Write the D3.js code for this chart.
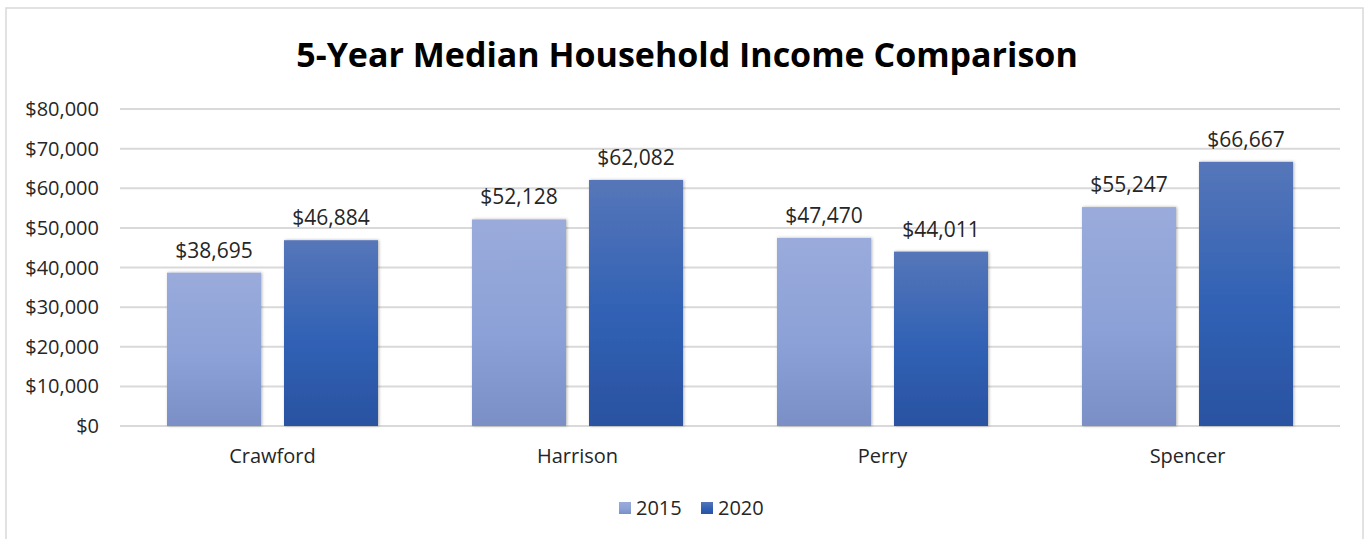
<!DOCTYPE html>
<html>
<head>
<meta charset="utf-8">
<script src="https://cdn.jsdelivr.net/npm/d3@7"></script>
<style>
  html, body { margin: 0; padding: 0; background: #fff; }
  svg { display: block; }
  text { font-family: "Open Sans", "Noto Sans", sans-serif; fill: #262626; }
</style>
</head>
<body>
<svg id="chart" width="1372" height="539"></svg>
<script>
// Median household income by county
const counties = ["Crawford", "Harrison", "Perry", "Spencer"];
const years = ["2015", "2020"];
const income2015 = [38695, 52128, 47470, 55247];
const income2020 = [46884, 62082, 44011, 66667];
const yTicks = [0, 10000, 20000, 30000, 40000, 50000, 60000, 70000, 80000];

const seriesValues = { "2015": income2015, "2020": income2020 };

const svg = d3.select("#chart");
const plot = { left: 120, right: 1340, top: 109, bottom: 426 };

// Frame around the chart area
svg.append("rect")
  .attr("x", 6).attr("y", 8)
  .attr("width", 1357).attr("height", 560)
  .attr("fill", "#fff")
  .attr("stroke", "#d9d9d9").attr("stroke-width", 1.5);

const defs = svg.append("defs");
const grads = {
  "2015": [["0%", "#9aabdb"], ["55%", "#8ca1d7"], ["100%", "#7a8fc6"]],
  "2020": [["0%", "#5676b9"], ["55%", "#3061b4"], ["100%", "#2b52a1"]]
};
years.forEach(y => {
  const g = defs.append("linearGradient").attr("id", "g" + y)
    .attr("x1", 0).attr("y1", 0).attr("x2", 0).attr("y2", 1);
  grads[y].forEach(([o, c]) => g.append("stop").attr("offset", o).attr("stop-color", c));
});
const shadow = defs.append("filter").attr("id", "shadow")
  .attr("x", "-20%").attr("y", "-20%").attr("width", "140%").attr("height", "140%");
shadow.append("feDropShadow").attr("dx", 1).attr("dy", 0).attr("stdDeviation", 1.5)
  .attr("flood-color", "#000").attr("flood-opacity", 0.3);

const x0 = d3.scaleBand().domain(counties).range([plot.left, plot.right]).paddingInner(0).paddingOuter(0);
const y = d3.scaleLinear().domain([0, 80000]).range([plot.bottom, plot.top]);

// Horizontal gridlines
svg.append("g").selectAll("line").data(yTicks).join("line")
  .attr("x1", plot.left).attr("x2", plot.right)
  .attr("y1", d => y(d)).attr("y2", d => y(d))
  .attr("stroke", "#d9d9d9").attr("stroke-width", 2);

// Y axis labels
const fmt = d3.format("$,");
svg.append("g").selectAll("text").data(yTicks).join("text")
  .attr("x", 99).attr("y", d => y(d))
  .attr("dy", "0.35em")
  .attr("text-anchor", "end")
  .attr("font-size", 20)
  .text(d => fmt(d));

// Bars: each group is centred in its band with a small gap between series
const barW = 94, gap = 23;
const offset = { "2015": -gap / 2 - barW, "2020": gap / 2 };

const groups = svg.append("g").selectAll("g").data(counties).join("g");
years.forEach(yr => {
  groups.append("rect")
    .attr("x", d => x0(d) + x0.bandwidth() / 2 + offset[yr])
    .attr("y", (d, i) => y(seriesValues[yr][i]))
    .attr("width", barW)
    .attr("height", (d, i) => y(0) - y(seriesValues[yr][i]))
    .attr("fill", "url(#g" + yr + ")")
    .attr("filter", "url(#shadow)");
  groups.append("text")
    .attr("x", d => x0(d) + x0.bandwidth() / 2 + offset[yr] + barW / 2)
    .attr("y", (d, i) => y(seriesValues[yr][i]) - 15)
    .attr("text-anchor", "middle")
    .attr("font-size", 21)
    .text((d, i) => fmt(seriesValues[yr][i]));
});

// Category labels
svg.append("g").selectAll("text").data(counties).join("text")
  .attr("x", d => x0(d) + x0.bandwidth() / 2)
  .attr("y", 463)
  .attr("text-anchor", "middle")
  .attr("font-size", 20)
  .text(d => d);

// Title
svg.append("text")
  .attr("x", 687).attr("y", 67)
  .attr("text-anchor", "middle")
  .attr("font-size", 34)
  .attr("font-weight", "bold")
  .style("fill", "#000")
  .text("5-Year Median Household Income Comparison");

// Legend
const legend = svg.append("g");
const legendX = { "2015": 619, "2020": 701 };
years.forEach(yr => {
  legend.append("rect")
    .attr("x", legendX[yr]).attr("y", 502)
    .attr("width", 12).attr("height", 12)
    .attr("fill", "url(#g" + yr + ")");
  legend.append("text")
    .attr("x", legendX[yr] + 17).attr("y", 508)
    .attr("dy", "0.35em")
    .attr("font-size", 20)
    .text(yr);
});
</script>
</body>
</html>
